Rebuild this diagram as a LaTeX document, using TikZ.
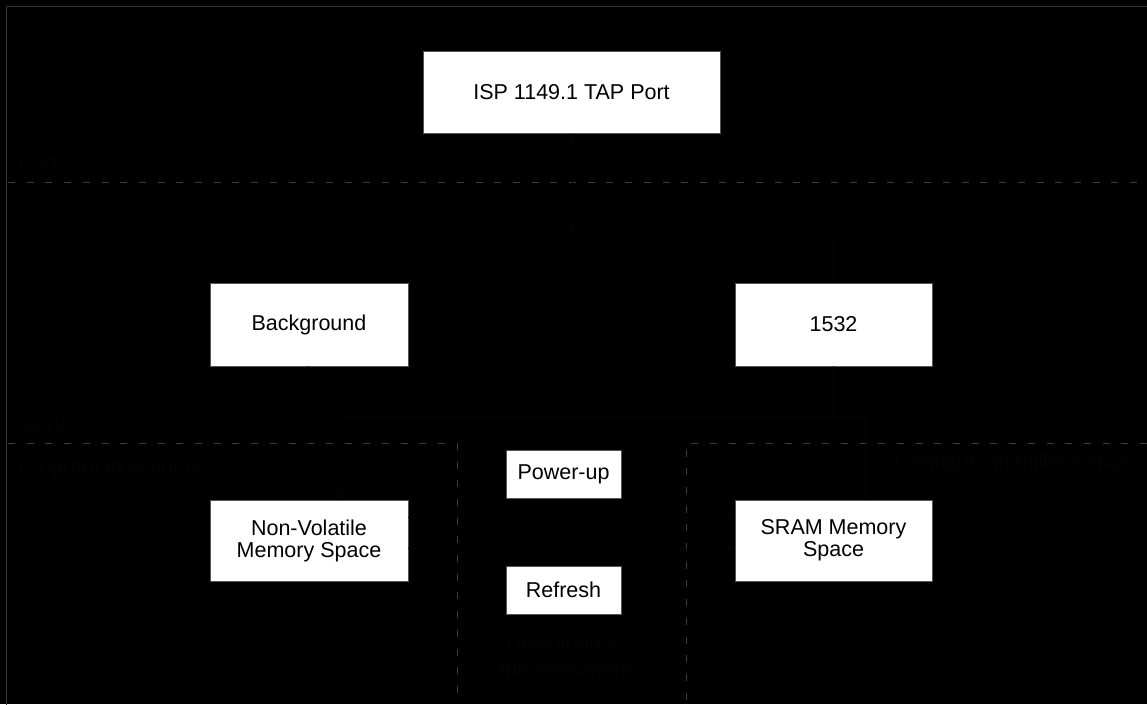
\documentclass[tikz,border=0pt]{standalone}
\usepackage{fontspec}
\setmainfont{Liberation Sans}
\usetikzlibrary{arrows.meta}
\definecolor{boxline}{RGB}{85,85,85}
\definecolor{dashc}{RGB}{62,62,62}
\definecolor{framec}{RGB}{50,50,50}
\definecolor{faint}{RGB}{4,4,4}
\tikzset{
  wbox/.style={draw=boxline, line width=0.8pt, fill=white, rectangle, inner sep=0pt, align=center,
    font=\fontsize{21.5}{22}\selectfont, text=black},
  zone/.style={draw=dashc, line width=1pt, dash pattern=on 7pt off 11.7pt},
  faintline/.style={draw=faint, line width=1pt},
  fainttext/.style={text=faint, font=\fontsize{21.3}{26}\selectfont, inner sep=0pt, align=left}
}
\begin{document}
\begin{tikzpicture}[x=1pt,y=-1pt]
\fill[black] (0,0) rectangle (1147,704);
\useasboundingbox (0,0) rectangle (1147,704);
\draw[framec, line width=1.2pt] (6.5,6.5) rectangle (1160,720);
% zones
\draw[zone] (8,182) -- (1147,182);
\draw[zone] (8,443) -- (457,443) -- (457,704);
\draw[zone] (1147,443) -- (686,443) -- (686,704);
% faint labels
\node[fainttext, anchor=west] (lport) at (18,162) {Port};
\node[fainttext, anchor=west] (lmode) at (18,427) {Mode};
\node[fainttext, anchor=west] (lprog) at (18,468) {Program in seconds};
\node[fainttext, anchor=west] (lconf) at (895,463) {Configure in milliseconds};
\node[fainttext, align=center] (ldown) at (565,655) {Download in\\microseconds};
% boxes
\node[wbox, minimum width=297pt, minimum height=82pt] (tap) at (571.5,92) {ISP 1149.1 TAP Port};
\node[wbox, minimum width=198pt, minimum height=83pt] (bg) at (309,324.5) {Background};
\node[wbox, minimum width=197pt, minimum height=83pt] (p1532) at (833.5,324.5) {1532};
\node[wbox, minimum width=115pt, minimum height=48pt] (pu) at (563.5,474) {Power-up};
\node[wbox, minimum width=115pt, minimum height=48pt] (rf) at (563.5,590) {Refresh};
\node[wbox, minimum width=198pt, minimum height=81pt] (nv) at (309,540.5) {Non-Volatile\\Memory Space};
\node[wbox, minimum width=197pt, minimum height=81pt] (sram) at (833.5,540.5) {SRAM Memory\\Space};
% faint connectors
\coordinate (tapend) at (572,232);
\draw[faintline, {Stealth[length=9pt,width=7pt]}-{Stealth[length=9pt,width=7pt]}] (tap.south -| tapend) -- (tapend);
\coordinate (jbg) at (308,240);
\coordinate (j15) at (833,240);
\draw[faintline] (jbg) -- (bg.north -| jbg);
\draw[faintline] (j15) -- (p1532.north -| j15);
\draw[faintline] (bg.south -| jbg) -- (nv.north -| jbg);
\coordinate (ja) at (341,416);
\coordinate (jb) at (865,416);
\draw[faintline] (p1532.south -| j15) -- (j15 |- ja);
\draw[faintline, -{Stealth[length=9pt,width=7pt]}] (jb) -- (ja) -- (nv.north -| ja);
\draw[faintline, -{Stealth[length=9pt,width=7pt]}] (jb) -- (sram.north -| jb);
\coordinate (r1) at (408,517);
\coordinate (r2) at (408,548);
\draw[faintline, -{Stealth[length=9pt,width=7pt]}] (r1) -- (sram.west |- r1);
\draw[faintline, -{Stealth[length=9pt,width=7pt]}] (r2) -- (sram.west |- r2);
\end{tikzpicture}
\end{document}
